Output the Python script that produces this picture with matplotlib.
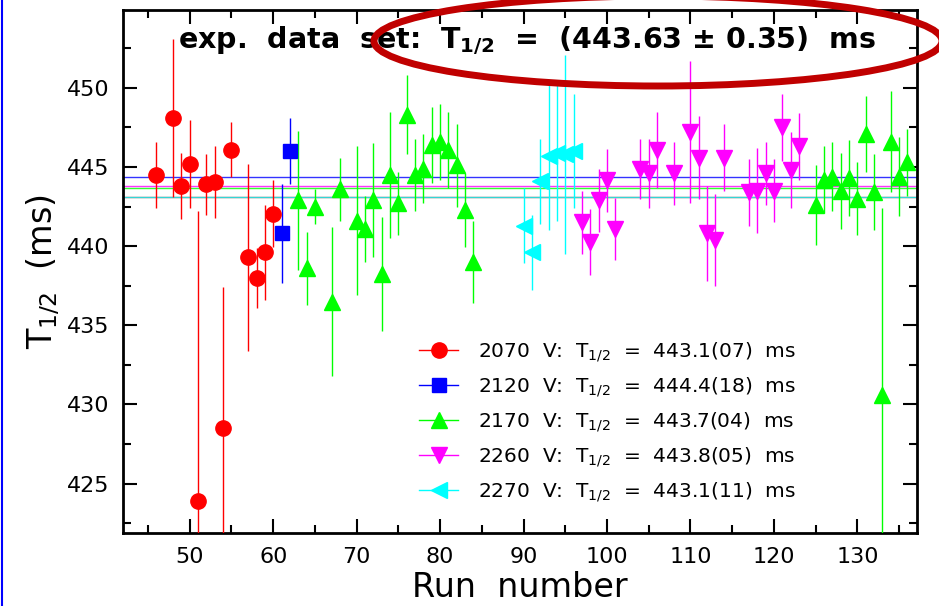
import matplotlib
matplotlib.use('Agg')
import matplotlib.pyplot as plt
from matplotlib.lines import Line2D
from matplotlib.patches import Ellipse
from matplotlib.ticker import MultipleLocator

plt.rcParams['mathtext.default'] = 'regular'
plt.rcParams['font.family'] = 'DejaVu Sans'

# run number, half-life (ms), error (ms) for each voltage setting
runs_2070 = [46, 48, 49, 50, 51, 52, 53, 54, 55, 57, 58, 59, 60]
t_2070 = [444.5, 448.1, 443.8, 445.2, 423.9, 443.9, 444.05, 428.5, 446.1, 439.3, 438.0, 439.6, 442.05]
e_2070 = [2.1, 5.0, 2.1, 2.8, 18.3, 1.9, 2.3, 8.9, 1.75, 5.9, 1.9, 3.0, 2.1]

runs_2120 = [61, 62]
t_2120 = [440.8, 446.0]
e_2120 = [3.1, 2.1]

runs_2170 = [63, 64, 65, 67, 68, 70, 71, 72, 73, 74, 75, 76, 77, 78, 79, 80, 81, 82, 83, 84,
             125, 126, 127, 128, 129, 130, 131, 132, 133, 134, 135, 136]
t_2170 = [442.9, 438.6, 442.5, 436.5, 443.6, 441.6, 441.1, 442.9, 438.25, 444.5, 442.7, 448.3,
          444.5, 444.9, 446.4, 446.6, 446.05, 445.1, 442.3, 439.0,
          442.6, 444.2, 444.4, 443.5, 444.3, 443.0, 447.1, 443.4, 430.6, 446.6, 444.4, 445.3]
e_2170 = [4.4, 2.3, 1.1, 4.7, 2.0, 4.7, 2.1, 3.6, 3.6, 4.0, 2.0, 2.5, 2.3, 2.2, 2.4, 2.4, 2.4,
          2.6, 2.35, 2.6, 2.5, 2.1, 2.2, 2.4, 2.4, 2.3, 2.4, 2.4, 11.8, 3.2, 2.5, 2.1]

runs_2260 = [97, 98, 99, 100, 101, 104, 105, 106, 108, 110, 111, 112, 113, 114, 117, 118, 119,
             120, 121, 122, 123]
t_2260 = [441.5, 440.25, 442.9, 444.15, 441.1, 444.9, 444.6, 446.05, 444.6, 447.2, 445.6, 440.8,
          440.4, 445.6, 443.4, 443.5, 444.6, 443.5, 447.5, 444.8, 446.3]
e_2260 = [2.0, 2.1, 2.0, 2.0, 1.95, 1.9, 2.2, 2.4, 2.0, 4.5, 2.6, 3.0, 2.9, 2.1, 2.1, 2.7, 2.0,
          2.0, 2.1, 2.4, 2.1]

runs_2270 = [90, 91, 92, 93, 94, 95, 96]
t_2270 = [441.3, 439.6, 444.1, 445.7, 445.9, 445.8, 446.0]
e_2270 = [2.35, 2.4, 2.7, 4.7, 4.3, 6.3, 3.6]

voltages = ['2070', '2120', '2170', '2260', '2270']
means = [443.1, 444.4, 443.7, 443.8, 443.1]
mean_text = ['443.1(07)', '444.4(18)', '443.7(04)', '443.8(05)', '443.1(11)']
colors = ['#ff0000', '#0000ff', '#00ff00', '#ff00ff', '#00ffff']
markers = ['o', 's', '^', 'v', '<']
sizes = [11, 10, 11, 11, 11]

series = [(runs_2070, t_2070, e_2070), (runs_2120, t_2120, e_2120), (runs_2170, t_2170, e_2170),
          (runs_2260, t_2260, e_2260), (runs_2270, t_2270, e_2270)]

fig = plt.figure(figsize=(9.39, 6.06), dpi=100)
ax = fig.add_axes([0.131, 0.121, 0.846, 0.862])

for (x, y, e), c, m, s, mu in zip(series, colors, markers, sizes, means):
    ax.axhline(mu, color=c, lw=1.0, alpha=0.8, zorder=1)
    ax.errorbar(x, y, yerr=e, fmt=m, color=c, ms=s, mec=c, ecolor=c,
                elinewidth=1.0, capsize=0, zorder=3)

ax.set_xlim(42.0, 137.2)
ax.set_ylim(421.9, 454.9)
ax.xaxis.set_major_locator(MultipleLocator(10))
ax.xaxis.set_minor_locator(MultipleLocator(5))
ax.yaxis.set_major_locator(MultipleLocator(5))
ax.yaxis.set_minor_locator(MultipleLocator(2.5))
ax.tick_params(which='both', direction='in', top=True, right=True, width=1.5)
ax.tick_params(which='major', length=10, labelsize=16)
ax.tick_params(which='minor', length=6)
ax.tick_params(axis='x', pad=10)
ax.tick_params(axis='y', pad=10)
for sp in ax.spines.values():
    sp.set_linewidth(2)

ax.set_xlabel('Run  number', fontsize=24, labelpad=3)
ax.set_ylabel('$T_{1/2}$  (ms)', fontsize=24, labelpad=3)

ax.text(0.508, 0.927, 'exp.  data  set:  $T_{1/2}$  =  (443.63 ± 0.35)  ms',
        transform=ax.transAxes, ha='center', va='baseline',
        fontsize=20.5, fontweight='bold', zorder=5)

handles = [Line2D([], [], color=c, lw=1.0, marker=m, ms=s, mec=c)
           for c, m, s in zip(colors, markers, sizes)]
labels = ['%s  V:  $T_{1/2}$  =  %s  ms' % (v, t) for v, t in zip(voltages, mean_text)]
fig.legend(handles, labels, loc='upper left', bbox_to_anchor=(419 / 939, 1 - 340 / 606),
           frameon=False, fontsize=14.5, handlelength=1.95, handletextpad=1.0,
           labelspacing=0.55, borderpad=0, borderaxespad=0)

# highlight ring around the combined result
ring = Ellipse((658 / 939, 1 - 41 / 606), 568 / 939, 90 / 606, transform=fig.transFigure,
               fill=False, edgecolor='#c00000', lw=5, zorder=10)
fig.add_artist(ring)
fig.add_artist(Line2D([0.002, 0.002], [0, 1], transform=fig.transFigure, color='blue', lw=1.5))

fig.savefig('out.png', dpi=100)
